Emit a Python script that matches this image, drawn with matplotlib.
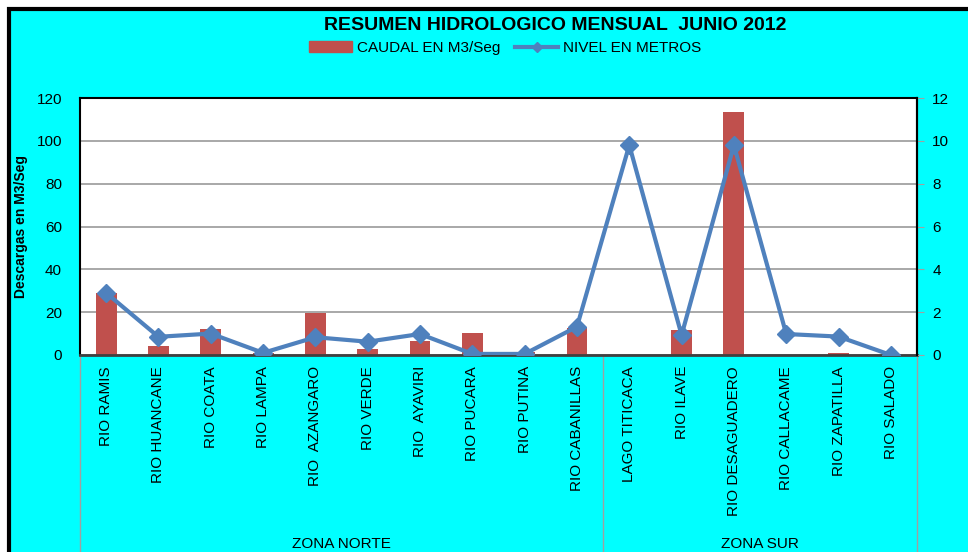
import matplotlib
matplotlib.use("Agg")
import matplotlib.pyplot as plt
from matplotlib.lines import Line2D
from matplotlib.patches import Patch, Rectangle
import matplotlib.transforms as mtransforms

plt.rcParams['font.family'] = ['Liberation Sans', 'DejaVu Sans']

rios = ["RIO RAMIS", "RIO HUANCANE", "RIO COATA", "RIO LAMPA", "RIO  AZANGARO",
        "RIO VERDE", "RIO  AYAVIRI", "RIO PUCARA", "RIO PUTINA", "RIO CABANILLAS",
        "LAGO TITICACA", "RIO ILAVE", "RIO DESAGUADERO", "RIO CALLACAME",
        "RIO ZAPATILLA", "RIO SALADO"]
caudal = [29, 4, 12.3, 1, 19.8, 2.8, 6.7, 10.4, 1.5, 12.8,
          0, 11.7, 113.6, -0.8, 0.8, 0]
nivel = [2.9, 0.85, 1.0, 0.1, 0.83, 0.62, 0.98, 0.05, 0.05, 1.32,
         9.8, 0.93, 9.8, 0.98, 0.86, 0.0]
zonas = ["ZONA NORTE", "ZONA SUR"]
n_norte = 10

cyan = "#00FFFF"
red = "#C0504D"
blue = "#4F81BD"
gris = "#A0A0A0"

fig = plt.figure(figsize=(9.68, 5.52), dpi=100)
fig.patch.set_facecolor("white")
# cyan chart area with black frame on left/top (cropped on right/bottom)
fig.patches.append(Rectangle((9 / 968, -0.1), 1.2, 1 - 9 / 552 + 0.1,
                             transform=fig.transFigure, facecolor=cyan,
                             edgecolor="black", linewidth=3, zorder=-10))

ax = fig.add_axes([80 / 968, 1 - 355 / 552, 837 / 968, 257 / 552])
ax.set_facecolor("white")
x = list(range(len(rios)))
ax.bar(x, caudal, width=0.4, color=red, zorder=2)
ax.set_xlim(-0.5, len(rios) - 0.5)
ax.set_ylim(0, 120)
ax.set_yticks(range(0, 121, 20))
ax.yaxis.grid(True, color="#999999", linewidth=1.2, zorder=0)
ax.set_axisbelow(True)
ax.tick_params(axis="y", length=0, labelsize=11, pad=13)
ax.set_xticks(x)
ax.set_xticklabels(rios, rotation=90, fontsize=11, va="top")
ax.tick_params(axis="x", length=0, pad=8)
ax.set_ylabel("Descargas en M3/Seg", fontsize=10, fontweight="bold", labelpad=6)
for s in ["top", "left", "right"]:
    ax.spines[s].set_color("black")
    ax.spines[s].set_linewidth(1.5)
ax.spines["bottom"].set_color("#404040")
ax.spines["bottom"].set_linewidth(2)

ax2 = ax.twinx()
ax2.plot(x, nivel, color=blue, linewidth=3, marker="D", markersize=9, zorder=3)
ax2.set_ylim(0, 12)
ax2.set_yticks(range(0, 13, 2))
ax2.tick_params(axis="y", length=5, color=gris, labelsize=11, pad=6)
for s in ax2.spines.values():
    s.set_visible(False)
ax2.spines["right"].set_visible(True)
ax2.spines["right"].set_color("black")
ax2.spines["right"].set_linewidth(1.5)

# zone separators and labels below the axis
trans = mtransforms.blended_transform_factory(ax.transData, ax.transAxes)
for xv in [-0.5, n_norte - 0.5, len(rios) - 0.5]:
    ax.add_line(Line2D([xv, xv], [0, -0.8], transform=trans, color=gris,
                       linewidth=1, clip_on=False))
yz = -(551 - 355) / 257
ax.text((n_norte - 1) / 2, yz, zonas[0], transform=trans, ha="center",
        va="bottom", fontsize=11, clip_on=False)
ax.text((n_norte + len(rios) - 1) / 2, yz, zonas[1], transform=trans,
        ha="center", va="bottom", fontsize=11, clip_on=False)

fig.text(555 / 968, 1 - 25 / 552, "RESUMEN HIDROLOGICO MENSUAL  JUNIO 2012",
         ha="center", va="center", fontsize=14, fontweight="bold")
handles = [Patch(facecolor=red, edgecolor=red),
           Line2D([0], [0], color=blue, linewidth=3, marker="D", markersize=5)]
fig.legend(handles, ["CAUDAL EN M3/Seg", "NIVEL EN METROS"], loc="center",
           bbox_to_anchor=(505 / 968, 1 - 48 / 552), ncol=2, frameon=False,
           fontsize=11, handlelength=2.8, handletextpad=0.3, columnspacing=1.0)

fig.savefig("out.png", dpi=100, facecolor=fig.get_facecolor())
